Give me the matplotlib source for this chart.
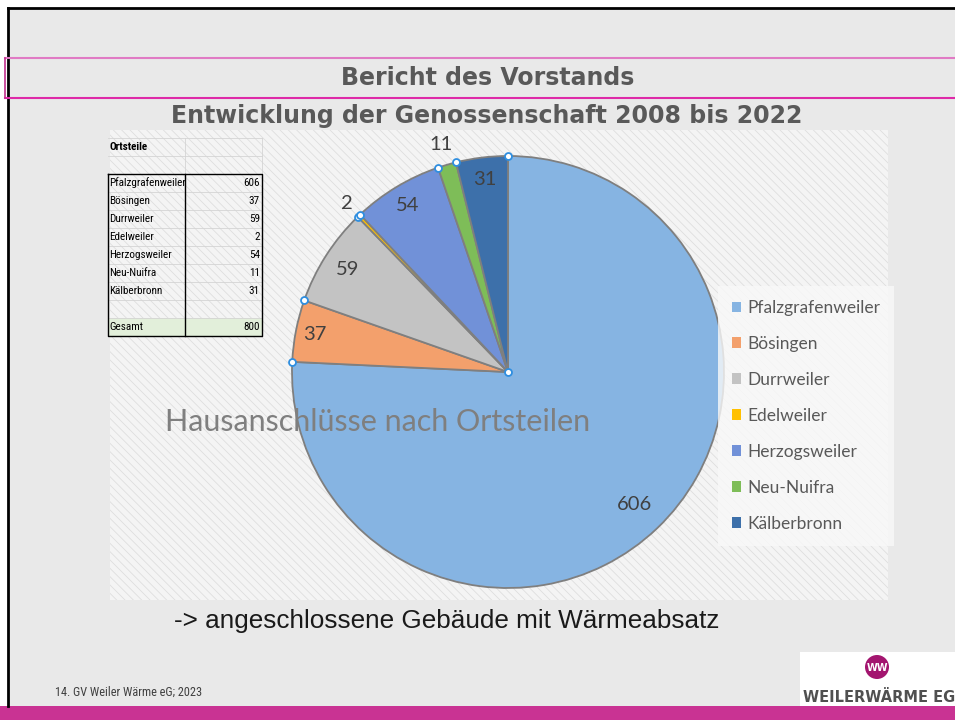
import numpy as np
import matplotlib
matplotlib.use("Agg")
import matplotlib.pyplot as plt
from matplotlib.patches import Rectangle, Circle

# data
ortsteile = ["Pfalzgrafenweiler", "Bösingen", "Durrweiler", "Edelweiler",
             "Herzogsweiler", "Neu-Nuifra", "Kälberbronn"]
anschluesse = [606, 37, 59, 2, 54, 11, 31]
farben = ["#86b4e2", "#f3a06c", "#c3c3c3", "#ffc000", "#7191d8", "#7ebd58", "#3d70aa"]
gesamt = 800

W, H = 955, 720
plt.rcParams["hatch.linewidth"] = 0.6
fig = plt.figure(figsize=(W / 100, H / 100), dpi=100)
fig.patch.set_facecolor("white")

# background axes in pixel coordinates
bg = fig.add_axes([0, 0, 1, 1], zorder=0)
bg.set_xlim(0, W)
bg.set_ylim(H, 0)
bg.axis("off")
bg.add_patch(Rectangle((8, 8), W, 698, facecolor="#e9e9e9", edgecolor="none"))
bg.plot([8, 8], [8, 706], color="black", lw=2)
bg.plot([8, W], [8, 8], color="black", lw=2)
bg.plot([5, W], [58, 58], color="#e07bc4", lw=1.5)
bg.plot([5, W], [98, 98], color="#de2aa8", lw=1.5)
bg.plot([5, 5], [58, 98], color="#c0308c", lw=1.2)
bg.add_patch(Rectangle((0, 706), W, 14, facecolor="#c93393", edgecolor="none"))

# chart area (hatched)
bg.add_patch(Rectangle((110, 130), 778, 470, facecolor="#f4f4f4",
                       edgecolor="#dedede", hatch="\\\\\\\\", lw=0))

bg.text(488, 78, "Bericht des Vorstands", ha="center", va="center",
        fontsize=17, fontweight="bold", color="#595959", family="DejaVu Sans")
bg.text(487, 116, "Entwicklung der Genossenschaft 2008 bis 2022", ha="center",
        va="center", fontsize=17, fontweight="bold", color="#595959",
        family="DejaVu Sans")

# small table
tf = ["Liberation Sans Narrow", "DejaVu Sans Condensed", "Roboto Condensed",
      "DejaVu Sans"]
x0, x1, x2 = 108, 185, 262
rows = ["Ortsteile", ""] + ortsteile + ["", "Gesamt"]
vals = ["", ""] + [str(v) for v in anschluesse] + ["", str(gesamt)]
y_top = 138
rh = 18
for i, (r, v) in enumerate(zip(rows, vals)):
    yt = y_top + i * rh
    if r == "Gesamt":
        bg.add_patch(Rectangle((x0, yt), x2 - x0, rh, facecolor="#e2efda",
                               edgecolor="none"))
    bg.plot([x0, x2], [yt, yt], color="#d4d4d4", lw=0.6)
    bg.text(x0 + 1, yt + rh / 2, r, ha="left", va="center", fontsize=8,
            family=tf, fontweight="bold" if i == 0 else "normal", color="black")
    bg.text(x2 - 2, yt + rh / 2, v, ha="right", va="center", fontsize=8,
            family=tf, color="black")
bg.plot([x1, x1], [y_top, y_top + 2 * rh], color="#d4d4d4", lw=0.6)
bg.plot([x2, x2], [y_top, y_top + 2 * rh], color="#d4d4d4", lw=0.6)
bt = y_top + 2 * rh
bb = y_top + len(rows) * rh
bg.plot([x0, x2, x2, x0, x0], [bt, bt, bb, bb, bt], color="black", lw=1)
bg.plot([x1, x1], [bt, bb], color="black", lw=1)

# pie
cx, cy, R = 508, 372, 216
s = 1.1
pax = fig.add_axes([(cx - R * s) / W, (H - cy - R * s) / H,
                    2 * R * s / W, 2 * R * s / H], zorder=1)
pax.patch.set_alpha(0)
wedges, _ = pax.pie(anschluesse, colors=farben, startangle=90, counterclock=False,
                    wedgeprops=dict(edgecolor="#7f7f7f", linewidth=1.3))
pax.set_xlim(-s, s)
pax.set_ylim(-s, s)
pax.set_aspect("equal")
pax.axis("off")

lf = ["Lato", "DejaVu Sans"]
label_r = [0.85, 0.91, 0.88, 1.08, 0.9, 1.1, 0.9]
for w, v, lr in zip(wedges, anschluesse, label_r):
    mid = np.deg2rad((w.theta1 + w.theta2) / 2)
    pax.text(lr * np.cos(mid), lr * np.sin(mid), str(v), ha="center", va="center",
             fontsize=14.5, color="#404040", family=lf)
# selection handles
for w in wedges:
    t = np.deg2rad(w.theta1)
    pax.plot(np.cos(t), np.sin(t), "o", ms=5, mfc="white", mec="#2e8ee0", mew=1.3,
             clip_on=False)
pax.plot(0, 0, "o", ms=5, mfc="white", mec="#2e8ee0", mew=1.3, clip_on=False)

fig.text(378 / W, 1 - 422 / H, "Hausanschlüsse nach Ortsteilen", ha="center",
         va="center", fontsize=22, color="#7f7f7f", family=lf, zorder=5)

leg = pax.legend(wedges, ortsteile, loc="upper left",
                 bbox_to_anchor=(718 / W, 1 - 286 / H), bbox_transform=fig.transFigure,
                 frameon=True, fancybox=False, handlelength=0.55, handleheight=0.55,
                 handletextpad=0.35, labelspacing=1.15, borderpad=0.8,
                 borderaxespad=0, prop=dict(family=lf, size=12.5))
leg.get_frame().set_facecolor("#f9f9f9")
leg.get_frame().set_edgecolor("none")
for t in leg.get_texts():
    t.set_color("#595959")
for h in leg.legend_handles:
    h.set_edgecolor("none")

fig.text(447 / W, 1 - 621 / H, "-> angeschlossene Gebäude mit Wärmeabsatz",
         ha="center", va="center", fontsize=18.8, color="#1a1a1a",
         family="Liberation Sans")
fig.text(55 / W, 1 - 692 / H, "14. GV Weiler Wärme eG; 2023", ha="left",
         va="center", fontsize=8.8, color="#404040", family=tf)

# logo
bg.add_patch(Rectangle((800, 652), 155, 54, facecolor="white", edgecolor="none"))
bg.add_patch(Circle((877, 667), 12, facecolor="#a3156f", edgecolor="none"))
bg.text(877, 668, "WW", ha="center", va="center", fontsize=7, fontweight="bold",
        color="white", family="DejaVu Sans")
bg.text(803, 697, "WEILERWÄRME EG", ha="left", va="center", fontsize=10.5,
        fontweight="bold", color="#505050", family="DejaVu Sans")

fig.savefig("out.png", dpi=100)
